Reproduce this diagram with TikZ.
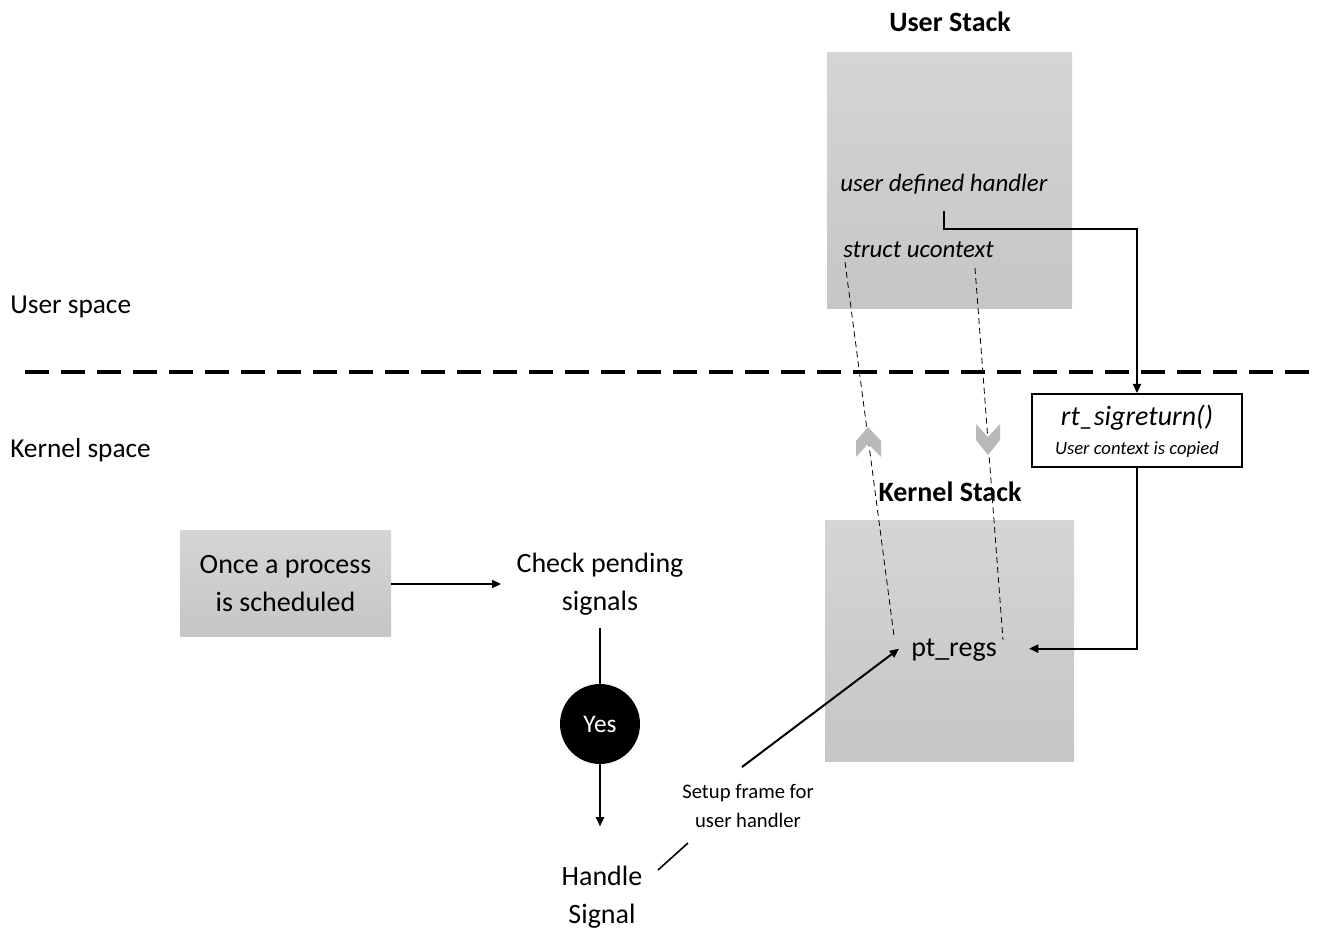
\documentclass[tikz,border=0pt]{standalone}
\usepackage{fontspec}
\setmainfont{Carlito}
\usetikzlibrary{arrows.meta}

\tikzset{
  pile/.style={draw=none, top color=gray!33, bottom color=gray!45},
  titre/.style={font=\fontsize{21}{25}\selectfont\bfseries},
  zone/.style={anchor=base west, inner sep=0pt, font=\fontsize{20.5}{24}\selectfont},
  champ/.style={anchor=base west, inner sep=0pt, font=\fontsize{18.7}{23}\selectfont\itshape},
  etape/.style={align=center, font=\fontsize{21}{28.5}\selectfont},
  fleche/.style={line width=1.5pt, -{Triangle[length=7pt,width=6pt]}},
  trait/.style={line width=1.5pt},
  pointille/.style={line width=0.6pt, dash pattern=on 4.5pt off 3pt},
  chevron/.style={fill=gray!55, draw=none}
}

\begin{document}
\begin{tikzpicture}[x=0.75pt, y=-0.75pt]
\useasboundingbox (0,0) rectangle (1318,937);

% Piles
\node[pile, minimum width=183.75pt, minimum height=192pt] (us) at (949.5,181) {};
\node[pile, minimum width=186.75pt, minimum height=180pt] (ks) at (949.5,641) {};
\node[titre] (ust) at (950,22) {User Stack};
\node[titre] (kst) at (950,492) {Kernel Stack};

\node[champ] (udh) at (840,192) {user defined handler};
\node[champ] (ucx) at (843,258) {struct ucontext};
\node[inner sep=0pt, font=\fontsize{21}{25}\selectfont] (ptr) at (954,650) {pt\_regs};

% Espaces
\node[zone] (usp) at (10,314) {User space};
\node[zone] (ksp) at (10,458) {Kernel space};
\draw[line width=3pt, dash pattern=on 18pt off 9pt] (25,372) -- (1318,372);

% rt_sigreturn
\node[draw, line width=1.2pt, fill=white, minimum width=157.5pt, minimum height=54.75pt,
      inner sep=0pt] (rt) at (1137,430.5) {};
\node[font=\fontsize{21}{25}\selectfont\itshape] (rtn) at (1137,418) {rt\_sigreturn()};
\node[font=\fontsize{14}{17}\selectfont\itshape] (rtc) at (1137,450) {User context is copied};

% Chemin du noyau
\node[pile, etape, minimum width=158.25pt, minimum height=79.5pt] (once) at (285.5,584)
  {Once a process\\is scheduled};
\node[etape] (chk) at (600,584) {Check pending\\signals};
\node[circle, fill=black, text=white, minimum size=60pt, inner sep=0pt,
      font=\fontsize{19}{22}\selectfont] (yes) at (600,724) {Yes};
\node[etape] (hs) at (602,897) {Handle\\Signal};
\node[align=center, font=\fontsize{15.5}{22}\selectfont] (setup) at (748,806)
  {Setup frame for\\user handler};

\draw[fleche] (once.east) -- ([xshift=-8pt]chk.west);
\draw[trait] ([yshift=-6pt]chk.south) -- (yes.north);
\draw[fleche, shorten >=26pt] (yes.south) -- (yes.south |- hs.north);

\coordinate (s1) at (658,870);
\coordinate (s2) at (688,843);
\coordinate (s3) at (742,767);
\draw[line width=1.2pt] (s1) -- (s2);
\draw[fleche] (s3) -- ([xshift=-9pt, yshift=1pt]ptr.west);

\draw[fleche] ([yshift=-12pt]udh.south) -- ++(0,18) -| (rt.north);
\draw[fleche] (rt.south) |- ([xshift=24pt, yshift=1pt]ptr.east);

% Copie du contexte
\coordinate (g1) at (845,262);
\coordinate (g2) at (894,636);
\coordinate (d1) at (975,268);
\coordinate (d2) at (1003,640);
\draw[pointille] (g1) -- (g2);
\draw[pointille] (d1) -- (d2);
\fill[chevron] (868,427) -- (881,441) -- (881,457) -- (868,444) -- (856,457) -- (856,441) -- cycle;
\fill[chevron] (976,424) -- (988,437) -- (1000,424) -- (1000,440) -- (988,455) -- (976,440) -- cycle;
\end{tikzpicture}
\end{document}
